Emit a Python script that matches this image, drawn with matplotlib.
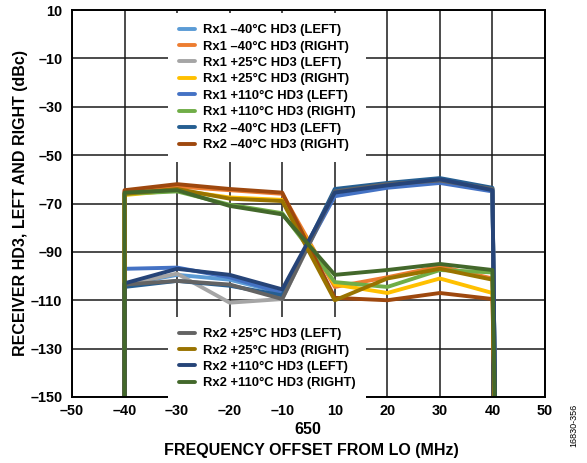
import numpy as np
import matplotlib
matplotlib.use("Agg")
import matplotlib.pyplot as plt

plt.rcParams['font.family'] = ['Liberation Sans', 'DejaVu Sans']
plt.rcParams['font.weight'] = 'bold'
plt.rcParams['axes.labelweight'] = 'bold'

# category axis: 0 MHz is not plotted, -10 and 10 are neighbours
tick_freqs = [-50, -40, -30, -20, -10, 10, 20, 30, 40, 50]
tick_labels = ['\u201350', '\u201340', '\u201330', '\u201320', '\u201310',
               '10', '20', '30', '40', '50']
y_ticks = [10, -10, -30, -50, -70, -90, -110, -130, -150]

freqs = [-40, -30, -20, -10, 10, 20, 30, 40]
# sweep edges where every trace falls off the bottom
edge_left = -40
edge_right = 40.6
floor = -170

# HD3 (dBc) at each offset
rx1_m40_left = [-103.5, -99.5, -101.5, -107, -66, -63, -61, -64.5]
rx1_m40_right = [-65, -63, -64.5, -66, -104.5, -100.5, -96, -101]
rx1_p25_left = [-103.5, -99, -111, -109.5, -65.5, -62.5, -60.5, -64]
rx1_p25_right = [-66.5, -64.5, -67.5, -68.5, -103.5, -107, -101, -107]
rx1_p110_left = [-97, -96.5, -100.5, -107, -67, -63.5, -61.5, -65]
rx1_p110_right = [-66, -65, -70.5, -74, -102.5, -104.5, -97.5, -98.5]
rx2_m40_left = [-104.5, -102, -104, -108, -64, -61.5, -59.5, -63.5]
rx2_m40_right = [-64.5, -62, -64, -65.5, -109, -110, -107, -109.5]
rx2_p25_left = [-103.5, -102, -103.5, -109.5, -65, -62, -60.5, -64]
rx2_p25_right = [-66, -64, -68, -69, -110, -101, -97, -101.5]
rx2_p110_left = [-103, -97, -99.5, -105.5, -65.5, -62.5, -60, -64.5]
rx2_p110_right = [-65.5, -64.5, -71, -74.5, -99.5, -97.5, -95, -97.5]

series = [
    ('Rx1 \u201340\u00b0C HD3 (LEFT)', rx1_m40_left, '#5B9BD5'),
    ('Rx1 \u201340\u00b0C HD3 (RIGHT)', rx1_m40_right, '#ED7D31'),
    ('Rx1 +25\u00b0C HD3 (LEFT)', rx1_p25_left, '#A5A5A5'),
    ('Rx1 +25\u00b0C HD3 (RIGHT)', rx1_p25_right, '#FFC000'),
    ('Rx1 +110\u00b0C HD3 (LEFT)', rx1_p110_left, '#4472C4'),
    ('Rx1 +110\u00b0C HD3 (RIGHT)', rx1_p110_right, '#70AD47'),
    ('Rx2 \u201340\u00b0C HD3 (LEFT)', rx2_m40_left, '#255E91'),
    ('Rx2 \u201340\u00b0C HD3 (RIGHT)', rx2_m40_right, '#9E480E'),
    ('Rx2 +25\u00b0C HD3 (LEFT)', rx2_p25_left, '#636363'),
    ('Rx2 +25\u00b0C HD3 (RIGHT)', rx2_p25_right, '#997300'),
    ('Rx2 +110\u00b0C HD3 (LEFT)', rx2_p110_left, '#264478'),
    ('Rx2 +110\u00b0C HD3 (RIGHT)', rx2_p110_right, '#43682B'),
]


def to_pos(f):
    return np.interp(f, tick_freqs, np.arange(len(tick_freqs)))


fig = plt.figure(figsize=(5.87, 4.63), dpi=100)
ax = fig.add_axes([72 / 587, 1 - 397 / 463, 473 / 587, 387 / 463])

handles = []
for label, vals, color in series:
    xs = [edge_left] + freqs + [edge_right]
    ys = [floor] + vals + [floor]
    h, = ax.plot(to_pos(xs), ys, color=color, lw=2.8, label=label,
                 solid_joinstyle='round', solid_capstyle='round')
    handles.append(h)

ax.set_xlim(0, len(tick_freqs) - 1)
ax.set_ylim(-150, 10)
ax.set_xticks(np.arange(len(tick_freqs)))
ax.set_xticklabels(tick_labels, fontweight='bold')
ax.set_yticks(y_ticks)
ax.set_yticklabels([('\u2013%d' % -v) if v < 0 else str(v) for v in y_ticks],
                   fontweight='bold')
ax.tick_params(length=0, labelsize=10.4, colors='black')
ax.tick_params(axis='x', pad=5)
ax.tick_params(axis='y', pad=7)
ax.set_axisbelow(True)
ax.grid(True, color='#1a1a1a', lw=1.1)
for s in ax.spines.values():
    s.set_linewidth(1.4)
    s.set_color('black')

ax.set_ylabel('RECEIVER HD3, LEFT AND RIGHT (dBc)', fontsize=11.5, fontweight='bold')
ax.yaxis.set_label_coords(-0.094, 0.5)
fig.text(308 / 587, 1 - 430 / 463, '650', ha='center', va='center',
         fontsize=11.5, fontweight='bold')
fig.text(311 / 587, 1 - 450 / 463, 'FREQUENCY OFFSET FROM LO (MHz)',
         ha='center', va='center', fontsize=11.5, fontweight='bold')
fig.text(574 / 587, 1 - 425 / 463, '16830-356', rotation=90, ha='center',
         va='center', fontsize=6.5, fontweight='normal')

leg_kw = dict(loc='upper left', bbox_transform=fig.transFigure,
              prop={'size': 9.4, 'weight': 'bold'},
              frameon=True, facecolor='white', edgecolor='none', framealpha=1,
              fancybox=False, handlelength=1.22, handletextpad=0.6,
              labelspacing=0.33, borderpad=0.84, borderaxespad=0)
leg1 = ax.legend(handles=handles[:8], bbox_to_anchor=(168 / 587, 1 - 13 / 463), **leg_kw)
ax.add_artist(leg1)
ax.legend(handles=handles[8:], bbox_to_anchor=(168 / 587, 1 - 317 / 463), **leg_kw)

fig.savefig('out.png', dpi=100)
